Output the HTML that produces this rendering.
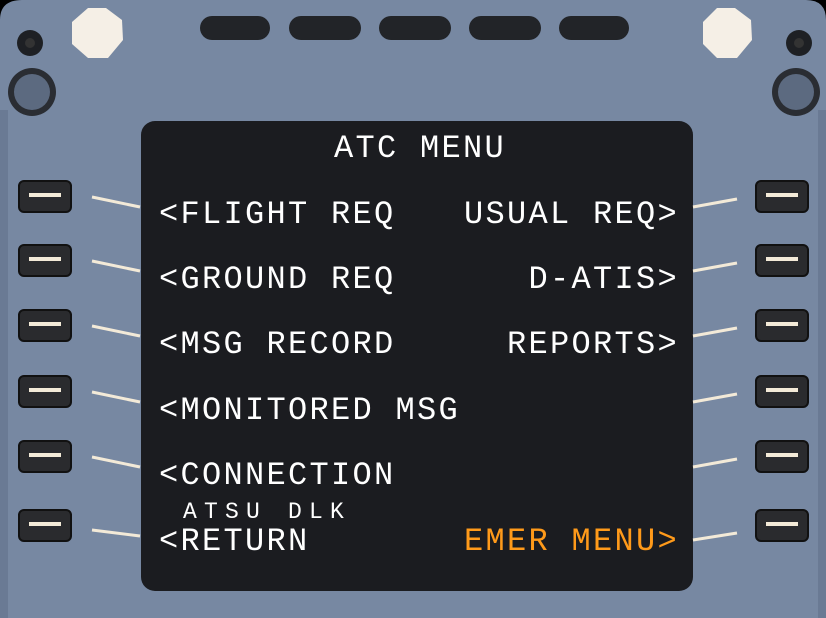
<!DOCTYPE html>
<html><head><meta charset="utf-8"><style>
html,body{margin:0;padding:0;background:#000;}
svg{display:block}
text{font-family:"Liberation Mono",monospace;}
</style></head><body>
<svg width="826" height="618" viewBox="0 0 826 618" xmlns="http://www.w3.org/2000/svg">
<rect width="826" height="618" fill="#000"/>
<path d="M22,0 H806 Q826,0 826,20 V618 H0 V20 Q0,0 22,0 Z" fill="#7788a2"/>
<rect x="0" y="110" width="8" height="508" fill="#6a7a94"/>
<rect x="818" y="110" width="8" height="508" fill="#6a7a94"/>
<!-- top oval buttons -->
<g fill="#222428">
<rect x="200" y="16" width="70" height="24" rx="12"/>
<rect x="289" y="16" width="72" height="24" rx="12"/>
<rect x="379" y="16" width="72" height="24" rx="12"/>
<rect x="469" y="16" width="72" height="24" rx="12"/>
<rect x="559" y="16" width="70" height="24" rx="12"/>
</g>
<!-- white knobs -->
<polygon points="88,8 106,8 122,20 123,40 108,58 88,58 72,44 72,22" fill="#f5efe6"/>
<polygon points="717,8 735,8 751,20 752,40 737,58 717,58 703,44 703,22" fill="#f5efe6"/>
<!-- screws -->
<circle cx="30" cy="43" r="13" fill="#1e2024"/><circle cx="30" cy="43" r="5" fill="#333"/>
<circle cx="799" cy="43" r="13" fill="#1e2024"/><circle cx="799" cy="43" r="5" fill="#333"/>
<circle cx="32" cy="92" r="24" fill="#2a2d33"/><circle cx="32" cy="92" r="18" fill="#5c6a80"/>
<circle cx="796" cy="92" r="24" fill="#2a2d33"/><circle cx="796" cy="92" r="18" fill="#5c6a80"/>
<!-- screen -->
<rect x="141" y="121" width="552" height="470" rx="14" fill="#1b1c20"/>
<!-- side buttons & lines -->
<g>
<g fill="#2a2b2e" stroke="#111" stroke-width="2">
<rect x="19" y="181" width="52" height="31" rx="5"/>
<rect x="19" y="245" width="52" height="31" rx="5"/>
<rect x="19" y="310" width="52" height="31" rx="5"/>
<rect x="19" y="376" width="52" height="31" rx="5"/>
<rect x="19" y="441" width="52" height="31" rx="5"/>
<rect x="19" y="510" width="52" height="31" rx="5"/>
<rect x="756" y="181" width="52" height="31" rx="5"/>
<rect x="756" y="245" width="52" height="31" rx="5"/>
<rect x="756" y="310" width="52" height="31" rx="5"/>
<rect x="756" y="376" width="52" height="31" rx="5"/>
<rect x="756" y="441" width="52" height="31" rx="5"/>
<rect x="756" y="510" width="52" height="31" rx="5"/>
</g>
<g stroke="#f3ead8" stroke-width="4">
<line x1="29" y1="195" x2="61" y2="195"/><line x1="29" y1="259" x2="61" y2="259"/>
<line x1="29" y1="324" x2="61" y2="324"/><line x1="29" y1="390" x2="61" y2="390"/>
<line x1="29" y1="455" x2="61" y2="455"/><line x1="29" y1="524" x2="61" y2="524"/>
<line x1="766" y1="195" x2="798" y2="195"/><line x1="766" y1="259" x2="798" y2="259"/>
<line x1="766" y1="324" x2="798" y2="324"/><line x1="766" y1="390" x2="798" y2="390"/>
<line x1="766" y1="455" x2="798" y2="455"/><line x1="766" y1="524" x2="798" y2="524"/>
</g>
<g stroke="#f3ead8" stroke-width="3">
<line x1="92" y1="197" x2="140" y2="207"/><line x1="92" y1="261" x2="140" y2="271"/>
<line x1="92" y1="326" x2="140" y2="336"/><line x1="92" y1="392" x2="140" y2="402"/>
<line x1="92" y1="457" x2="140" y2="467"/><line x1="92" y1="530" x2="140" y2="536"/>
<line x1="693" y1="207" x2="737" y2="199"/><line x1="693" y1="271" x2="737" y2="263"/>
<line x1="693" y1="336" x2="737" y2="328"/><line x1="693" y1="402" x2="737" y2="394"/>
<line x1="693" y1="467" x2="737" y2="459"/><line x1="693" y1="540" x2="737" y2="533"/>
</g>
</g>
<!-- text -->
<g fill="#ffffff" font-size="32" letter-spacing="2.3">
<text x="334" y="157">ATC MENU</text>
<text x="159" y="223">&lt;FLIGHT REQ</text>
<text x="159" y="288">&lt;GROUND REQ</text>
<text x="159" y="353">&lt;MSG RECORD</text>
<text x="159" y="419">&lt;MONITORED MSG</text>
<text x="159" y="484">&lt;CONNECTION</text>
<text x="159" y="550">&lt;RETURN</text>
<text x="679" y="223" text-anchor="end">USUAL REQ&gt;</text>
<text x="679" y="288" text-anchor="end">D-ATIS&gt;</text>
<text x="679" y="353" text-anchor="end">REPORTS&gt;</text>
<text x="679" y="550" text-anchor="end" fill="#ff9a1a">EMER MENU&gt;</text>
</g>
<text x="183" y="518" fill="#ffffff" font-size="23" letter-spacing="7.2">ATSU DLK</text>
</svg>
</body></html>
